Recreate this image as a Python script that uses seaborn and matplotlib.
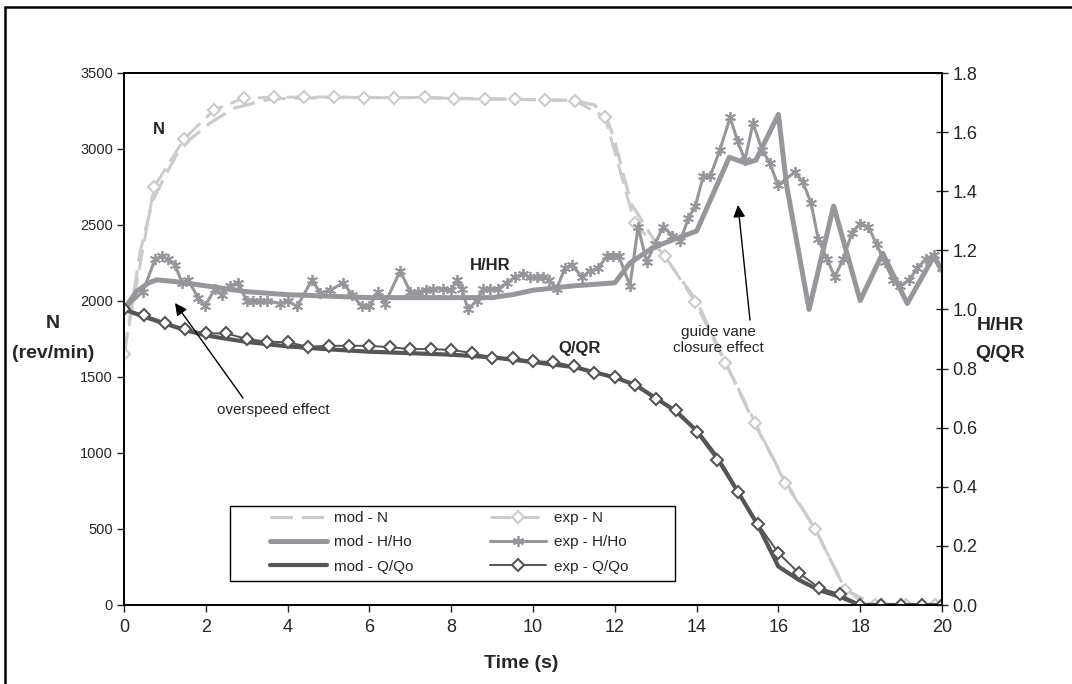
import matplotlib
matplotlib.use('Agg')
import matplotlib.pyplot as plt
from matplotlib.patches import Rectangle
import seaborn as sns

# Pump-turbine trip: speed, head and flow vs time

# --- speed N (rev/min), left axis ---
t_mod_n = [0, 0.15, 0.4, 0.7, 1.0, 1.3, 1.6, 2.1, 2.7, 3.6, 5.0, 7.0, 9.0, 11.0,
           11.5, 11.8, 12.0, 12.4, 13.2, 14.0, 14.7, 15.4, 16.2, 16.9, 17.6, 18.0, 18.3, 20.0]
n_mod = [1650, 1900, 2330, 2660, 2820, 2970, 3060, 3170, 3270, 3330, 3340, 3338, 3330, 3320,
         3290, 3210, 3050, 2640, 2300, 2000, 1600, 1200, 800, 500, 120, 30, 0, 0]

t_exp_n = [0, 0.735, 1.47, 2.2, 2.94, 3.67, 4.41, 5.14, 5.88, 6.61, 7.35, 8.08, 8.82, 9.55,
           10.29, 11.02, 11.76, 12.49, 13.23, 13.96, 14.7, 15.43, 16.17, 16.9, 17.64, 18.37, 19.11, 19.84]
n_exp = [1650, 2750, 3066, 3257, 3336, 3340, 3342, 3342, 3338, 3338, 3340, 3332, 3328, 3328,
         3322, 3318, 3210, 2510, 2296, 1995, 1595, 1200, 800, 500, 100, 0, 0, 0]

# --- head H/HR, right axis ---
t_mod_h = [0, 0.3, 0.6, 0.8, 1.2, 2.0, 3.0, 4.0, 5.0, 6.0, 7.0, 8.0, 9.0, 9.5, 10.0, 11.0,
           12.0, 12.37, 12.94, 13.6, 14.0, 14.8, 15.2, 15.45, 16.0, 16.2, 16.75, 17.35, 18.0,
           18.55, 19.15, 19.8, 20.0]
h_mod = [1.0, 1.06, 1.09, 1.10, 1.095, 1.08, 1.06, 1.05, 1.045, 1.04, 1.04, 1.04, 1.04, 1.05,
         1.065, 1.08, 1.09, 1.157, 1.21, 1.245, 1.265, 1.515, 1.495, 1.505, 1.66, 1.42, 1.0,
         1.35, 1.03, 1.19, 1.02, 1.18, 1.13]

t_exp_h = [0, 0.46, 0.76, 0.92, 1.08, 1.25, 1.42, 1.57, 1.81, 1.98, 2.22, 2.39, 2.59, 2.79,
           3.0, 3.16, 3.33, 3.5, 3.81, 4.0, 4.23, 4.6, 4.8, 5.04, 5.36, 5.57, 5.82, 6.0, 6.2,
           6.38, 6.75, 7.0, 7.2, 7.38, 7.55, 7.8, 8.0, 8.14, 8.26, 8.41, 8.62, 8.78, 8.96, 9.14,
           9.36, 9.56, 9.76, 9.93, 10.1, 10.25, 10.4, 10.58, 10.78, 10.95, 11.2, 11.39, 11.6,
           11.8, 11.95, 12.1, 12.37, 12.57, 12.78, 12.98, 13.18, 13.4, 13.6, 13.8, 13.97, 14.16,
           14.33, 14.57, 14.82, 15.0, 15.18, 15.38, 15.6, 15.79, 15.99, 16.4, 16.6, 16.8, 16.97,
           17.19, 17.38, 17.58, 17.8, 18.0, 18.2, 18.4, 18.6, 18.8, 18.97, 19.2, 19.4, 19.6,
           19.8, 20.0]
h_exp = [1.0, 1.06, 1.17, 1.18, 1.17, 1.15, 1.09, 1.10, 1.04, 1.01, 1.07, 1.05, 1.08, 1.09,
         1.03, 1.03, 1.03, 1.03, 1.02, 1.03, 1.01, 1.10, 1.055, 1.065, 1.09, 1.05, 1.01, 1.01,
         1.06, 1.02, 1.13, 1.06, 1.06, 1.065, 1.07, 1.07, 1.065, 1.10, 1.07, 1.0, 1.03, 1.07,
         1.07, 1.07, 1.09, 1.11, 1.12, 1.11, 1.11, 1.11, 1.10, 1.07, 1.14, 1.15, 1.11, 1.13,
         1.14, 1.18, 1.18, 1.18, 1.08, 1.28, 1.16, 1.22, 1.28, 1.25, 1.23, 1.31, 1.35, 1.45,
         1.45, 1.54, 1.65, 1.57, 1.505, 1.63, 1.54, 1.495, 1.42, 1.465, 1.43, 1.36, 1.24,
         1.17, 1.11, 1.17, 1.26, 1.29, 1.28, 1.22, 1.16, 1.10, 1.08, 1.10, 1.14, 1.17,
         1.185, 1.14]

# --- flow Q/QR, right axis ---
t_mod_q = [0, 0.5, 1.0, 1.5, 2.0, 3.0, 4.0, 5.0, 6.0, 7.0, 8.0, 9.0, 10.0, 11.0, 12.0, 12.5,
           13.0, 13.5, 14.0, 14.5, 15.0, 15.5, 16.0, 16.5, 17.0, 17.5, 18.0, 20.0]
q_mod = [1.0, 0.975, 0.952, 0.93, 0.912, 0.89, 0.875, 0.865, 0.857, 0.852, 0.847, 0.838, 0.822,
         0.805, 0.77, 0.745, 0.70, 0.655, 0.59, 0.50, 0.385, 0.27, 0.13, 0.085, 0.05, 0.028, 0.0, 0.0]

t_exp_q = [0, 0.5, 1.0, 1.5, 2.0, 2.5, 3.0, 3.5, 4.0, 4.5, 5.0, 5.5, 6.0, 6.5, 7.0, 7.5, 8.0,
           8.5, 9.0, 9.5, 10.0, 10.5, 11.0, 11.5, 12.0, 12.5, 13.0, 13.5, 14.0, 14.5, 15.0, 15.5,
           16.0, 16.5, 17.0, 17.5, 18.0, 18.5, 19.0, 19.5, 20.0]
q_exp = [1.0, 0.981, 0.955, 0.933, 0.919, 0.919, 0.90, 0.891, 0.889, 0.874, 0.877, 0.877, 0.877,
         0.872, 0.866, 0.866, 0.863, 0.853, 0.836, 0.836, 0.825, 0.822, 0.808, 0.785, 0.77,
         0.744, 0.697, 0.66, 0.585, 0.49, 0.382, 0.274, 0.176, 0.108, 0.058, 0.037, 0.0, 0.0,
         0.0, 0.0, 0.0]

x_ticks = [0, 2, 4, 6, 8, 10, 12, 14, 16, 18, 20]
n_ticks = [0, 500, 1000, 1500, 2000, 2500, 3000, 3500]
r_ticks = [0.0, 0.2, 0.4, 0.6, 0.8, 1.0, 1.2, 1.4, 1.6, 1.8]

# colours
c_n = '#cbcbcb'
c_h = '#96979a'
c_q = '#555555'

W, H = 1072, 684


def px(x, y):
    """pixel position -> figure fraction"""
    return (x / W, 1 - y / H)


sns.set_style("white")
plt.rcParams['font.family'] = ['Liberation Sans', 'DejaVu Sans']

fig = plt.figure(figsize=(W / 100, H / 100), dpi=100)
fig.subplots_adjust(left=124 / W, right=942 / W, top=1 - 73 / H, bottom=1 - 605 / H)
ax = fig.add_subplot(111)
ax2 = ax.twinx()

# speed on the left axis (both drawn dashed, like the source)
sns.lineplot(x=t_mod_n, y=n_mod, ax=ax, color=c_n, linewidth=2.3, label='mod - N',
             legend=False, sort=False)
ax.lines[-1].set_dashes([7, 2.8])
sns.lineplot(x=t_exp_n, y=n_exp, ax=ax, color=c_n, linewidth=2.1, marker='D', markersize=6.5,
             markerfacecolor='white', markeredgecolor=c_n, markeredgewidth=1.5,
             label='exp - N', legend=False, sort=False)
ax.lines[-1].set_dashes([7, 2.8])

# head and flow on the right axis
sns.lineplot(x=t_mod_h, y=h_mod, ax=ax2, color=c_h, linewidth=3.6, label='mod - H/Ho',
             legend=False, sort=False)
sns.lineplot(x=t_exp_h, y=h_exp, ax=ax2, color=c_h, linewidth=2.2, marker=(6, 2, 0),
             markersize=8, markeredgecolor=c_h, markeredgewidth=1.3,
             label='exp - H/Ho', legend=False, sort=False)
sns.lineplot(x=t_mod_q, y=q_mod, ax=ax2, color=c_q, linewidth=3.0, label='mod - Q/Qo',
             legend=False, sort=False)
sns.lineplot(x=t_exp_q, y=q_exp, ax=ax2, color=c_q, linewidth=1.4, marker='D', markersize=6.5,
             markerfacecolor='white', markeredgecolor=c_q, markeredgewidth=1.5,
             label='exp - Q/Qo', legend=False, sort=False)

# axes limits / ticks
ax.set_xlim(0, 20)
ax.set_ylim(0, 3500)
ax2.set_ylim(0, 1.8)
ax.set_xticks(x_ticks)
ax.set_yticks(n_ticks)
ax2.set_yticks(r_ticks)
ax2.set_yticklabels([f'{v:.1f}' for v in r_ticks])
ax.set_xlabel('')
ax.set_ylabel('')
ax2.set_ylabel('')
ax.tick_params(axis='x', direction='out', length=5, width=1, labelsize=13, pad=5, bottom=True)
ax.tick_params(axis='y', direction='out', length=5, width=1, labelsize=10.5, pad=3, left=True)
ax2.tick_params(axis='y', direction='inout', length=9, width=1, labelsize=13, pad=3, right=True)
for a in (ax, ax2):
    for s in a.spines.values():
        s.set_color('black')
        s.set_linewidth(1.3)

# legend (two columns, mod left / exp right), frame drawn separately
h1, l1 = ax.get_legend_handles_labels()
h2, l2 = ax2.get_legend_handles_labels()
order = [0, 2, 4, 1, 3, 5]
hs = [(h1 + h2)[i] for i in order]
ls = [(l1 + l2)[i] for i in order]
leg = ax2.legend(hs, ls, ncol=2, loc='upper left', bbox_to_anchor=px(270, 511),
                 bbox_transform=fig.transFigure, borderaxespad=0, borderpad=0, fontsize=11,
                 handlelength=3.7, handletextpad=0.5, columnspacing=5.0, labelspacing=0.68,
                 frameon=False)
leg.set_zorder(6)
box = Rectangle(px(230, 581), 445 / W, 75 / H, transform=fig.transFigure, clip_on=False,
                facecolor='white', edgecolor='black', lw=1.0, zorder=5)
ax2.add_artist(box)

# axis titles
fig.text(*px(53, 323), 'N', fontsize=14, fontweight='bold', ha='center', va='center')
fig.text(*px(53, 353), '(rev/min)', fontsize=14, fontweight='bold', ha='center', va='center')
fig.text(*px(1000, 325), 'H/HR', fontsize=14, fontweight='bold', ha='center', va='center')
fig.text(*px(1000, 353), 'Q/QR', fontsize=14, fontweight='bold', ha='center', va='center')
fig.text(*px(521, 663), 'Time (s)', fontsize=14, fontweight='bold', ha='center', va='center')

# curve labels
fig.text(*px(159, 129), 'N', fontsize=12, fontweight='bold', ha='center', va='center')
fig.text(*px(490, 265), 'H/HR', fontsize=12, fontweight='bold', ha='center', va='center')
fig.text(*px(580, 348), 'Q/QR', fontsize=12, fontweight='bold', ha='center', va='center')

# annotations with arrows
fig.text(*px(273, 410), 'overspeed effect', fontsize=11, ha='center', va='center')
fig.text(*px(718, 340), 'guide vane\nclosure effect', fontsize=11, ha='center', va='center',
         linespacing=1.1)
arrow = dict(arrowstyle='-|>', color='black', lw=1.0, shrinkA=0, shrinkB=0, mutation_scale=18)
ax2.annotate('', xy=px(175, 303), xycoords='figure fraction',
             xytext=px(243, 398), textcoords='figure fraction', arrowprops=arrow)
ax2.annotate('', xy=px(738, 205), xycoords='figure fraction',
             xytext=px(750, 320), textcoords='figure fraction', arrowprops=arrow)

# outer frame (cut off at right and bottom)
fig.add_artist(plt.Line2D([5 / W, 5 / W], [-0.1, 1 - 7 / H], transform=fig.transFigure,
                          color='black', lw=1.8))
fig.add_artist(plt.Line2D([5 / W, 1.1], [1 - 7 / H, 1 - 7 / H], transform=fig.transFigure,
                          color='black', lw=1.8))

fig.savefig('out.png', dpi=100)
plt.close(fig)
